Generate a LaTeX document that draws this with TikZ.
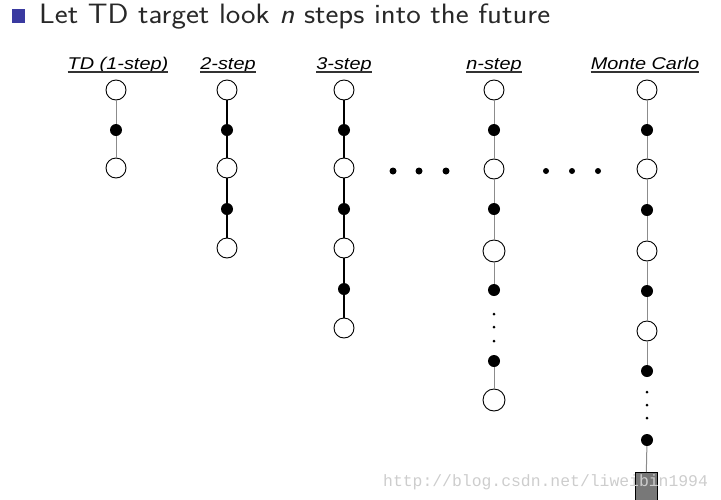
\documentclass[tikz,border=0pt]{standalone}
\usepackage{fontspec}
\newfontfamily\labelfont{Liberation Sans}
\newfontfamily\wmfont{Liberation Mono}
\definecolor{structblue}{RGB}{58,58,160}
\definecolor{titlegray}{RGB}{40,40,40}
\definecolor{linegray}{RGB}{140,140,140}
\definecolor{sqgray}{RGB}{120,120,120}
\definecolor{wmgray}{RGB}{205,205,205}
\begin{document}
\begin{tikzpicture}[x=1pt,y=-1pt,
  wnode/.style={circle,draw=black,fill=white,line width=0.9pt,minimum size=20pt,inner sep=0pt},
  bnode/.style={circle,fill=black,minimum size=12pt,inner sep=0pt},
  sdot/.style={circle,fill=black,minimum size=3pt,inner sep=0pt},
  hdot/.style={circle,fill=black,minimum size=7pt,inner sep=0pt},
  sqnode/.style={rectangle,draw=black,fill=sqgray,line width=0.8pt,minimum width=22pt,minimum height=32pt,inner sep=0pt},
  glink/.style={draw=linegray,line width=1pt},
  klink/.style={draw=black,line width=1.2pt},
  lbl/.style={anchor=base,inner sep=0pt,font=\labelfont\itshape\fontsize{17}{20}\selectfont},
  uline/.style={draw=black!80,line width=1.2pt},
  ttl/.style={anchor=base west,inner sep=0pt,text=titlegray,font=\sffamily\fontsize{28}{31}\selectfont}]
\useasboundingbox (0,0) rectangle (721,499);

% title
\node[rectangle,fill=structblue,minimum width=13pt,minimum height=14pt,inner sep=0pt] (bullet) at (18.5,16) {};
\node[ttl] (title) at (39,23) {\scalebox{1.10}[1]{Let TD target look \textit{n} steps into the future}};

% labels
\node[lbl] (l1) at (118,69) {\scalebox{1.17}[1]{TD (1-step)}};
\node[lbl] (l2) at (228,69) {\scalebox{1.17}[1]{2-step}};
\node[lbl] (l3) at (344,69) {\scalebox{1.17}[1]{3-step}};
\node[lbl] (l4) at (494,69) {\scalebox{1.17}[1]{\textit{n}-step}};
\node[lbl] (l5) at (645,69) {\scalebox{1.17}[1]{Monte Carlo}};
\foreach \l in {l1,l2,l3,l4,l5}{
  \draw[uline] ([yshift=-3pt]\l.base west) -- ([yshift=-3pt]\l.base east);
}

% TD column
\node[wnode] (a1) at (116,90) {};
\node[bnode] (a2) at (116,130) {};
\node[wnode] (a3) at (116,168) {};
\draw[glink] (a1) -- (a2) -- (a3);

% 2-step
\node[wnode] (b1) at (227,90) {};
\node[bnode] (b2) at (227,130) {};
\node[wnode] (b3) at (227,168) {};
\node[bnode] (b4) at (227,209) {};
\node[wnode] (b5) at (227,248) {};
\draw[klink] (b1) -- (b2) -- (b3) -- (b4) -- (b5);

% 3-step
\node[wnode] (c1) at (344,90) {};
\node[bnode] (c2) at (344,130) {};
\node[wnode] (c3) at (344,168) {};
\node[bnode] (c4) at (344,209) {};
\node[wnode] (c5) at (344,248) {};
\node[bnode] (c6) at (344,289) {};
\node[wnode] (c7) at (344,328) {};
\draw[klink] (c1) -- (c2) -- (c3) -- (c4) -- (c5) -- (c6) -- (c7);

% horizontal dots
\node[hdot] (h1) at (393,171) {};
\node[hdot] (h2) at (419,171) {};
\node[hdot] (h3) at (446,171) {};
\node[hdot,minimum size=6pt] (h4) at (546,171) {};
\node[hdot,minimum size=6pt] (h5) at (572,171) {};
\node[hdot,minimum size=6pt] (h6) at (598,171) {};

% n-step
\node[wnode] (d1) at (494,90) {};
\node[bnode] (d2) at (494,130) {};
\node[wnode] (d3) at (494,169) {};
\node[bnode] (d4) at (494,209) {};
\node[wnode,minimum size=22pt] (d5) at (494,251) {};
\node[bnode] (d6) at (494,290) {};
\node[sdot] (d7) at (494,314) {};
\node[sdot] (d8) at (494,327) {};
\node[sdot] (d9) at (494,341) {};
\node[bnode] (d10) at (494,361) {};
\node[wnode,minimum size=22pt] (d11) at (494,400) {};
\draw[glink] (d1) -- (d2) -- (d3) -- (d4) -- (d5) -- (d6);
\draw[glink] (d10) -- (d11);

% Monte Carlo
\node[wnode] (m1) at (647,90) {};
\node[bnode] (m2) at (647,130) {};
\node[wnode] (m3) at (647,169) {};
\node[bnode] (m4) at (647,210) {};
\node[wnode] (m5) at (647,251) {};
\node[bnode] (m6) at (647,291) {};
\node[wnode] (m7) at (647,331) {};
\node[bnode] (m8) at (647,371) {};
\node[sdot] (m9) at (647,392) {};
\node[sdot] (m10) at (647,405) {};
\node[sdot] (m11) at (647,418) {};
\node[bnode] (m12) at (647,440) {};
\node[sqnode,anchor=north] (m13) at (646,472) {};
\draw[glink] (m1) -- (m2) -- (m3) -- (m4) -- (m5) -- (m6) -- (m7) -- (m8);
\draw[glink] (m12) -- (m13);

% watermark
\node[anchor=base west,inner sep=0pt,text=wmgray,font=\wmfont\fontsize{16.4}{19}\selectfont] (wm) at (383,486) {http://blog.csdn.net/liweibin1994};
\end{tikzpicture}
\end{document}
